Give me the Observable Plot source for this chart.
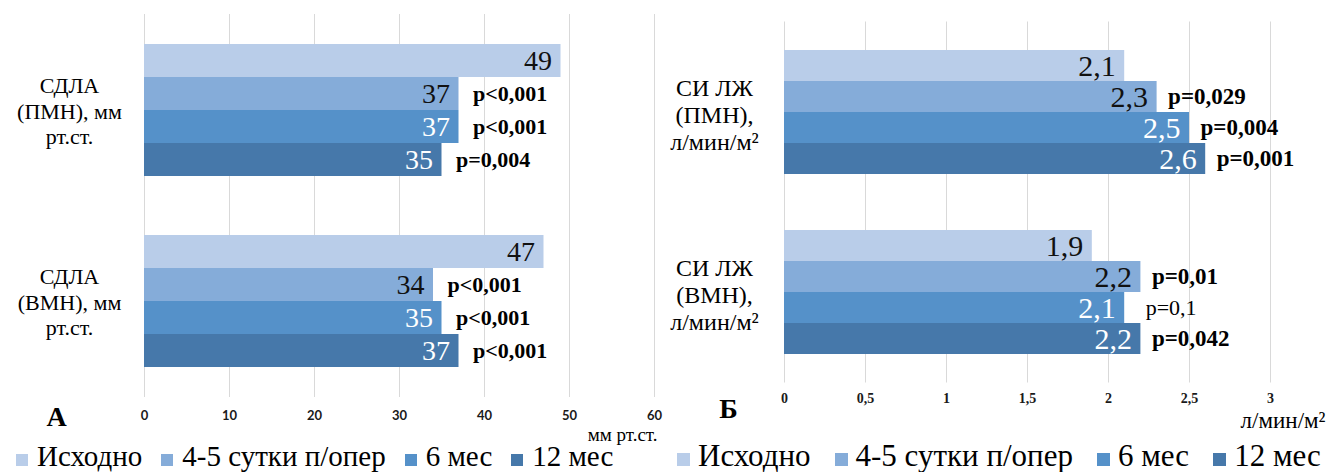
<!DOCTYPE html>
<html>
<head>
<meta charset="utf-8">
<script src="https://cdn.jsdelivr.net/npm/d3@7"></script>
<script src="https://cdn.jsdelivr.net/npm/@observablehq/plot@0.6"></script>
<style>
  body { margin: 0; background: #fff; width: 1330px; height: 472px; overflow: hidden; position: relative;
         font-family: 'Liberation Serif', Tinos, 'Times New Roman', 'Nimbus Roman', FreeSerif, 'Noto Serif', 'DejaVu Serif', serif; }
  .panel { position: absolute; top: 0; width: 665px; height: 472px; }
  .panel svg { display: block; }
  .legend { position: absolute; top: 444px; display: flex; align-items: baseline; white-space: nowrap;
            line-height: 24px; color: #000; }
  .legend .sw { display: inline-block; }
</style>
</head>
<body>
<div id="left" class="panel" style="left:0"></div>
<div id="right" class="panel" style="left:665px"></div>
<script>
// Observation periods (shared by both panels)
const series = ["Исходно", "4-5 сутки п/опер", "6 мес", "12 мес"];
const seriesColors = ["#b9cde9", "#85acd9", "#5591c9", "#4678aa"];
const lightTextSeries = ["6 мес", "12 мес"];

// Panel А: systolic pulmonary artery pressure
const pressureGroups = ["СДЛА\n(ПМН), мм\nрт.ст.", "СДЛА\n(ВМН), мм\nрт.ст."];
const pressurePMN = [49, 37, 37, 35];
const pressureVMN = [47, 34, 35, 37];
const pressurePValuesPMN = ["", "p<0,001", "p<0,001", "p=0,004"];
const pressurePValuesVMN = ["", "p<0,001", "p<0,001", "p<0,001"];
const pressureTicks = [0, 10, 20, 30, 40, 50, 60];
const pressureUnit = "мм рт.ст.";

// Panel Б: left ventricular cardiac index
const indexGroups = ["СИ ЛЖ\n(ПМН),\nл/мин/м²", "СИ ЛЖ\n(ВМН),\nл/мин/м²"];
const indexPMN = [2.1, 2.3, 2.5, 2.6];
const indexVMN = [1.9, 2.2, 2.1, 2.2];
const indexPValuesPMN = ["", "p=0,029", "p=0,004", "p=0,001"];
const indexPValuesVMN = ["", "p=0,01", "p=0,1", "p=0,042"];
const indexTicks = [0, 0.5, 1, 1.5, 2, 2.5, 3];
const indexUnit = "л/мин/м²";

const SERIF = "'Liberation Serif', Tinos, 'Times New Roman', 'Nimbus Roman', FreeSerif, 'Noto Serif', 'DejaVu Serif', serif";
const comma = (v) => String(v).replace(".", ",");

function buildRows(groups, valueLists, pLists) {
  return groups.flatMap((g, i) => series.map((s, j) => ({
    group: g, series: s, value: valueLists[i][j], p: pLists[i][j]
  })));
}

// p-values below 0.05 are set in bold
function isSignificant(p) {
  if (p.includes("<")) return true;
  return parseFloat(p.slice(2).replace(",", ".")) < 0.05;
}

function drawPanel(el, rows, groups, opts) {
  const last = groups[groups.length - 1];
  const withP = rows.filter((d) => d.p);
  const chart = Plot.plot({
    width: 665,
    height: 440,
    marginLeft: opts.marginLeft,
    marginRight: opts.marginRight,
    marginTop: opts.marginTop,
    marginBottom: opts.marginBottom,
    style: { fontFamily: SERIF, fontSize: "14px", color: "#000", background: "#fff", overflow: "visible" },
    x: { domain: opts.domain, axis: null },
    y: { domain: series, padding: 0, axis: null },
    fy: { domain: groups, paddingInner: 0.31, paddingOuter: 0.155, axis: null },
    color: { domain: series, range: seriesColors },
    marks: [
      Plot.ruleX(opts.ticks, { stroke: "#d9d9d9", strokeWidth: 1, insetTop: -opts.gridExtend, insetBottom: -opts.gridExtend }),
      Plot.barX(rows, { fy: "group", y: "series", x1: 0, x2: "value", fill: "series" }),
      Plot.text(rows.filter((d) => !lightTextSeries.includes(d.series)), {
        fy: "group", y: "series", x: "value", text: (d) => comma(d.value),
        textAnchor: "end", dx: -9, fontSize: opts.valueSize, fontFamily: SERIF, fill: "#111"
      }),
      Plot.text(rows.filter((d) => lightTextSeries.includes(d.series)), {
        fy: "group", y: "series", x: "value", text: (d) => comma(d.value),
        textAnchor: "end", dx: -9, fontSize: opts.valueSize, fontFamily: SERIF, fill: "#fff"
      }),
      Plot.text(withP.filter((d) => isSignificant(d.p)), {
        fy: "group", y: "series", x: "value", text: "p",
        textAnchor: "start", dx: opts.pDx, fontSize: opts.pSize, fontFamily: SERIF, fontWeight: "bold", fill: "#000"
      }),
      Plot.text(withP.filter((d) => !isSignificant(d.p)), {
        fy: "group", y: "series", x: "value", text: "p",
        textAnchor: "start", dx: opts.pDx + 10, fontSize: opts.pSize - 1, fontFamily: SERIF, fill: "#000"
      }),
      Plot.text(groups, {
        fy: (d) => d, text: (d) => d, frameAnchor: "left", dx: opts.labelDx, dy: opts.labelDy,
        textAnchor: "middle", lineAnchor: "middle", fontSize: opts.labelSize, fontFamily: SERIF,
        lineHeight: opts.labelLineHeight, fill: "#000"
      }),
      Plot.axisX(opts.ticks, {
        tickSize: 0, tickPadding: opts.tickPadding, tickFormat: comma, label: null,
        fontSize: opts.tickSize, fontWeight: "bold", fontFamily: opts.tickFont, fill: "#1a1a1a"
      }),
      Plot.text([opts.unit], {
        fy: () => last, frameAnchor: "bottom-right", textAnchor: "end", lineAnchor: "bottom",
        dx: opts.unitDx, dy: opts.unitDy, fontSize: opts.unitSize, fontFamily: SERIF, fill: "#000"
      }),
      Plot.text([opts.letter], {
        fy: () => last, frameAnchor: "bottom-left", textAnchor: "middle", lineAnchor: "bottom",
        dx: opts.letterDx, dy: opts.letterDy, fontSize: 28, fontFamily: SERIF, fontWeight: "bold", fill: "#000"
      })
    ]
  });
  el.appendChild(chart);

  // legend row below the chart
  const legend = d3.select(el).append("div").attr("class", "legend")
    .style("left", opts.legendLeft + "px").style("font-size", opts.legendSize + "px");
  series.forEach((s, i) => {
    const item = legend.append("span").style("display", "inline-flex").style("align-items", "baseline")
      .style("margin-right", opts.legendGap + "px");
    item.append("span").attr("class", "sw")
      .style("width", opts.swatch + "px").style("height", opts.swatch + "px")
      .style("background", seriesColors[i]).style("margin-right", opts.swatchGap + "px");
    item.append("span").text(s);
  });
}

drawPanel(document.getElementById("left"),
  buildRows(pressureGroups, [pressurePMN, pressureVMN], [pressurePValuesPMN, pressurePValuesVMN]),
  pressureGroups, {
    domain: [0, 60], ticks: pressureTicks, unit: pressureUnit, letter: "А",
    marginLeft: 144, marginRight: 11, marginTop: 14, marginBottom: 44, gridExtend: 30,
    valueSize: 28, pSize: 22, pDx: 14, labelSize: 22, labelLineHeight: 1.14, labelDx: -75, labelDy: 0,
    tickPadding: 43, tickSize: 13, tickFont: "Lato, 'Open Sans', sans-serif",
    unitDx: 3, unitDy: 73, unitSize: 19, letterDx: -88, letterDy: 58,
    legendLeft: 16, legendSize: 29, legendGap: 19, swatch: 12, swatchGap: 9
  });

drawPanel(document.getElementById("right"),
  buildRows(indexGroups, [indexPMN, indexVMN], [indexPValuesPMN, indexPValuesVMN]),
  indexGroups, {
    domain: [0, 3], ticks: indexTicks, unit: indexUnit, letter: "Б",
    marginLeft: 119, marginRight: 60, marginTop: 22, marginBottom: 58, gridExtend: 28.5,
    valueSize: 30, pSize: 23, pDx: 11, labelSize: 24, labelLineHeight: 1.13, labelDx: -70, labelDy: 2,
    tickPadding: 39, tickSize: 14, tickFont: SERIF,
    unitDx: 55, unitDy: 73, unitSize: 23, letterDx: -56, letterDy: 63,
    legendLeft: 12, legendSize: 31, legendGap: 24, swatch: 13, swatchGap: 8
  });
</script>
</body>
</html>
